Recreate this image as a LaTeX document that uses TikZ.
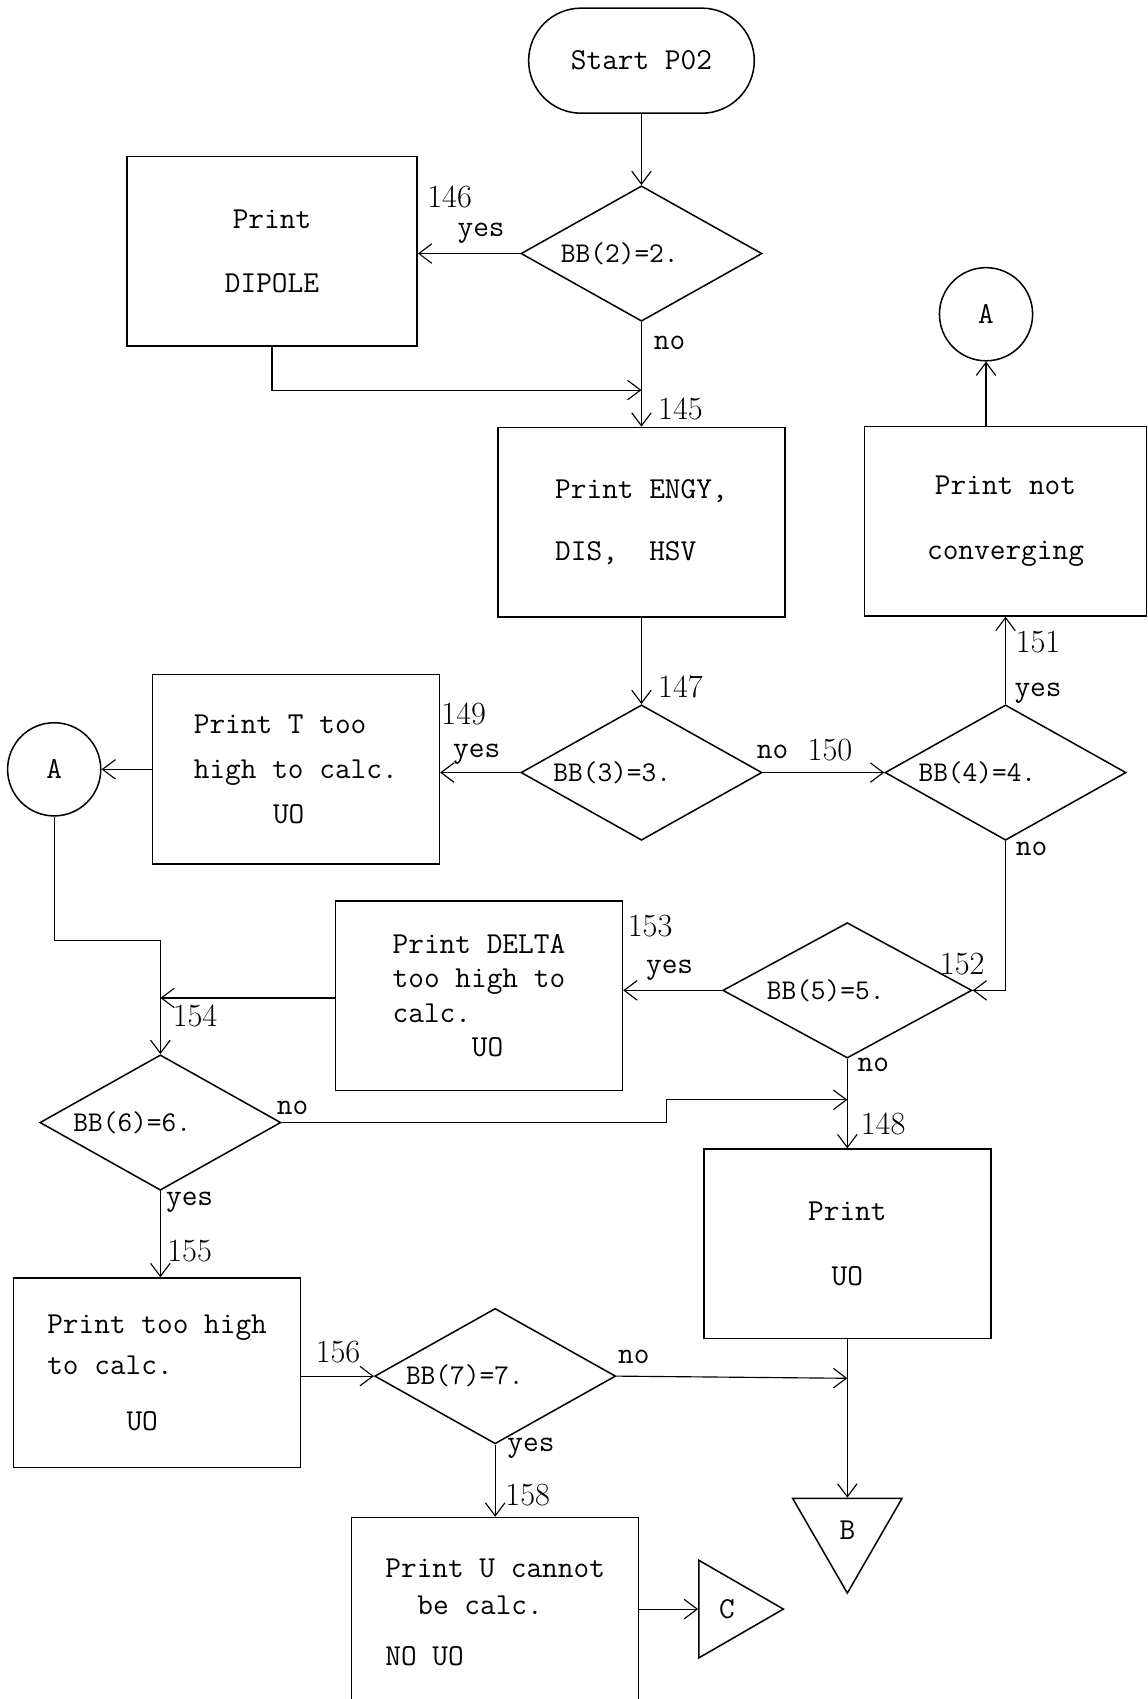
\documentclass[tikz,border=0pt]{standalone}
\usepackage{tikz}
\usetikzlibrary{
    calc,
    arrows.meta,
    shapes.geometric,
    shapes.misc
}

\begin{document}
\begin{tikzpicture}[x=0.02cm, y=-0.02cm,
    every node/.style={font=\fontsize{16}{18}\selectfont\ttfamily},
    printbox/.style={draw, line width=0.8pt, minimum width=5.3cm, minimum height=3.5cm, inner sep=0pt},
    test/.style={draw, diamond, line width=0.8pt, minimum width=4.45cm, minimum height=2.5cm, inner sep=0pt},
    cond/.style={font=\fontsize{15}{17}\selectfont\ttfamily},
    conn/.style={draw, circle, line width=0.8pt, minimum size=1.72cm, inner sep=0pt},
    offpage/.style={draw, regular polygon, regular polygon sides=3, line width=0.8pt, inner sep=0pt},
    flow/.style={line width=0.6pt, -{Straight Barb[length=2.4mm, width=3.6mm]}},
    num/.style={font=\fontsize{17}{19}\selectfont\rmfamily}
]

\useasboundingbox (0,0) rectangle (1059,1568);

\node[draw, rounded rectangle, line width=0.8pt, minimum width=4.4cm, minimum height=1.94cm] (start) at (592,56) {Start P02};

\node[test] (d2) at (592,234) {};
\node[cond] (t2) at ($(d2)+(-20,0)$) {BB(2)=2.};
\node[printbox, minimum width=5.36cm, align=center] (dipole) at (251,232) {Print\\[0.56cm]DIPOLE};

\node[printbox, align=left] (engy) at (592,482) {Print ENGY,\\[0.5cm]DIS,\ \ HSV};
\node[printbox, minimum width=5.2cm, align=center] (nc) at (928,481) {Print not\\[0.56cm]converging};
\node[conn] (A2) at (910,290) {A};

\node[test] (d3) at (592,713) {};
\node[cond] (t3) at ($(d3)+(-27,0)$) {BB(3)=3.};
\node[printbox, align=left] (tbox) at (273,710) {Print T too\\[0.2cm]high to calc.\\[0.2cm]\hspace*{2.6em}UO};
\node[conn] (A1) at (50,710) {A};

\node[test] (d4) at (928,713) {};
\node[cond] (t4) at ($(d4)+(-26,0)$) {BB(4)=4.};

\node[test, minimum width=4.6cm] (d5) at (782,914) {};
\node[cond] (t5) at ($(d5)+(-20,0)$) {BB(5)=5.};
\node[printbox, align=left] (delta) at (442,919) {Print DELTA\\too high to\\calc.\\\hspace*{2.6em}UO};
\node[printbox, align=center] (uo) at (782,1148) {Print\\[0.56cm]UO};

\node[test] (d6) at (148,1036) {};
\node[cond] (t6) at ($(d6)+(-26,0)$) {BB(6)=6.};
\node[printbox, align=left] (th) at (145,1267) {Print too high\\[0.14cm]to calc.\\[0.4cm]\hspace*{2.6em}UO};

\node[test] (d7) at (457,1270) {};
\node[cond] (t7) at ($(d7)+(-28,0)$) {BB(7)=7.};
\node[printbox, align=left] (nouo) at (457,1488) {Print U cannot\\[0.05cm]\hspace*{1.05em}be calc.\\[0.3cm]NO UO};

\node[offpage, minimum size=2.33cm, shape border rotate=180] (B) at (782,1412) {B};
\node[offpage, minimum size=2.08cm, shape border rotate=-90] (C) at (671,1485) {C};

\coordinate (j1) at (592,360);
\coordinate (j2) at (148,921);
\coordinate (j3) at (148,868);
\coordinate (j4) at (615,1015);
\coordinate (j5) at (782,1015);
\coordinate (j6) at (782,1272);

\draw[flow] (start.south) -- (d2.north);
\draw[flow] (d2.west) -- (d2.west -| dipole.east);
\draw[flow] (d2.south) -- (engy.north);
\draw[flow] (dipole.south) |- (j1);
\draw[flow] (engy.south) -- (d3.north);
\draw[flow] (d3.west) -- (d3.west -| tbox.east);
\draw[flow] (tbox.west) -- (A1.east);
\draw[flow] (d3.east) -- (d4.west);
\draw[flow] (d4.north) -- (nc.south);
\draw[flow] (A2.south |- nc.north) -- (A2.south);
\draw[flow] (d4.south) |- (d5.east);
\draw[flow] (d5.west) -- (d5.west -| delta.east);
\draw[flow] (delta.west |- j2) -- (j2);
\draw[flow] (A1.south) |- (j3) -- (d6.north);
\draw[flow] (d5.south) -- (uo.north);
\draw[flow] (d6.east) -| (j4) -- (j5);
\draw[flow] (d6.south) -- (d6.south |- th.north);
\draw[flow] (d7.west -| th.east) -- (d7.west);
\draw[flow] (d7.east) -- (j6);
\draw[flow] (uo.south) -- (B.90);
\draw[flow] (d7.south) -- (nouo.north);
\draw[flow] (C.180 -| nouo.east) -- (C.180);

\node[num] (n146) at (415,182) {146};
\node (y146) at (444,215) {yes};
\node (no145) at (618,316) {no};
\node[num] (n145) at (628,377) {145};
\node[num] (n147) at (628,634) {147};
\node[num] (n149) at (428,659) {149};
\node (y149) at (440,696) {yes};
\node (no150) at (713,694) {no};
\node[num] (n150) at (766,692) {150};
\node[num] (n151) at (958,593) {151};
\node (y151) at (958,640) {yes};
\node (no152) at (952,783) {no};
\node[num] (n152) at (888,890) {152};
\node[num] (n153) at (600,855) {153};
\node (y153) at (618,895) {yes};
\node[num] (n154) at (180,938) {154};
\node (no148) at (806,983) {no};
\node[num] (n148) at (815,1037) {148};
\node (no6) at (270,1022) {no};
\node (y155) at (175,1110) {yes};
\node[num] (n155) at (175,1155) {155};
\node[num] (n156) at (312,1248) {156};
\node (no7) at (585,1252) {no};
\node (y158) at (490,1337) {yes};
\node[num] (n158) at (487,1380) {158};

\end{tikzpicture}
\end{document}
